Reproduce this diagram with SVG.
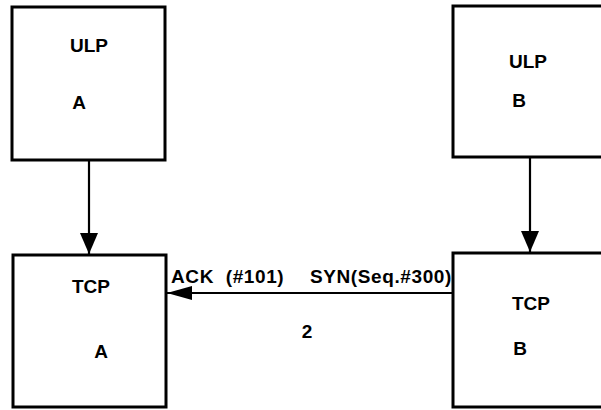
<svg xmlns="http://www.w3.org/2000/svg" width="601" height="410" viewBox="0 0 601 410">
<style>
.box{fill:none;stroke:#000;stroke-width:3}
.t{font-family:"Liberation Sans",Arial,sans-serif;font-weight:bold;font-size:19px;fill:#000}
.l{letter-spacing:0.6px}
.c{fill:none;stroke:#000;stroke-width:2.2}
</style>
<defs>
<marker id="ahv" viewBox="0 0 21 18" refX="21" refY="9" markerWidth="21" markerHeight="18" markerUnits="userSpaceOnUse" orient="auto">
<path d="M0,0 L21,9 L0,18 Z" fill="#000"/>
</marker>
<marker id="ahh" viewBox="0 0 25 14" refX="25" refY="7" markerWidth="25" markerHeight="14" markerUnits="userSpaceOnUse" orient="auto">
<path d="M0,0 L25,7 L0,14 Z" fill="#000"/>
</marker>
</defs>
<rect width="601" height="410" fill="#fff"/>
<g id="ulpA">
<rect class="box" x="12" y="7" width="153" height="153"/>
<text class="t" x="89" y="52" text-anchor="middle">ULP</text>
<text class="t" x="79" y="109" text-anchor="middle">A</text>
</g>
<g id="ulpB">
<rect class="box" x="453" y="6" width="160" height="151"/>
<text class="t" x="528" y="68" text-anchor="middle">ULP</text>
<text class="t" x="519" y="107" text-anchor="middle">B</text>
</g>
<g id="tcpA">
<rect class="box" x="13" y="255" width="153" height="152"/>
<text class="t" x="91" y="293" text-anchor="middle">TCP</text>
<text class="t" x="101" y="358" text-anchor="middle">A</text>
</g>
<g id="tcpB">
<rect class="box" x="453" y="253" width="160" height="154"/>
<text class="t" x="531" y="310" text-anchor="middle">TCP</text>
<text class="t" x="520" y="355" text-anchor="middle">B</text>
</g>
<g id="connectors">
<line class="c" x1="89" y1="161" x2="89" y2="254" marker-end="url(#ahv)"/>
<line class="c" x1="530" y1="158" x2="530" y2="252" marker-end="url(#ahv)"/>
<line class="c" x1="453" y1="293" x2="167" y2="293" marker-end="url(#ahh)"/>
<text class="t l" x="171" y="283" xml:space="preserve">ACK  (#101)</text>
<text class="t l" x="310" y="283">SYN(Seq.#300)</text>
<text class="t" x="307" y="338" text-anchor="middle">2</text>
</g>
</svg>
